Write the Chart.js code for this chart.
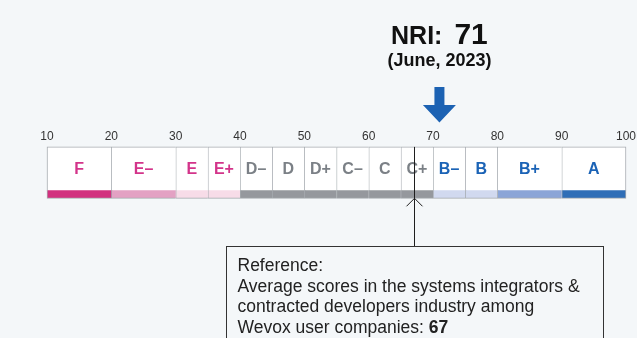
<!DOCTYPE html>
<html>
<head>
<meta charset="utf-8">
<script src="https://cdn.jsdelivr.net/npm/chart.js@4/dist/chart.umd.min.js"></script>
<style>
  html, body { margin: 0; padding: 0; background: #f4f7f9; }
  #wrap { width: 637px; height: 338px; position: relative; }
</style>
</head>
<body>
<div id="wrap"><canvas id="myChart"></canvas></div>
<script>
const grades = ["F", "E–", "E", "E+", "D–", "D", "D+", "C–", "C", "C+", "B–", "B", "B+", "A"];
const gradeFrom = [10, 20, 30, 35, 40, 45, 50, 55, 60, 65, 70, 75, 80, 90];
const gradeTo = [20, 30, 35, 40, 45, 50, 55, 60, 65, 70, 75, 80, 90, 100];
const stripColors = [
  "#d2317f", "#e3a1c3", "#f7dce8", "#f7dce8",
  "#95989d", "#95989d", "#95989d", "#95989d", "#95989d", "#95989d",
  "#d1d9ef", "#d1d9ef", "#8ba5d7", "#2f6eb7",
];
const gradeTextColors = [
  "#d3348a", "#d3348a", "#d3348a", "#d3348a",
  "#7b8086", "#7b8086", "#7b8086", "#7b8086", "#7b8086", "#7b8086",
  "#1b63b6", "#1b63b6", "#1b63b6", "#1b63b6",
];
const scoreTicks = [10, 20, 30, 40, 50, 60, 70, 80, 90, 100];
const nriScore = 71;
const nriPeriod = "(June, 2023)";
const industryAverage = 67;
const noteLines = [
  "Reference:",
  "Average scores in the systems integrators &",
  "contracted developers industry among",
  "Wevox user companies: ",
];

const FONT = "'Liberation Sans', Arial, Helvetica, sans-serif";
const borderGray = "#a6abb0";

const boxSets = grades.map(function (g, i) {
  return {
    label: g,
    data: [[gradeFrom[i], gradeTo[i]], null],
    backgroundColor: "#ffffff",
    borderColor: borderGray,
    borderWidth: { left: 1, top: 1, right: i === grades.length - 1 ? 1 : 0, bottom: 0 },
    borderSkipped: false,
    barThickness: 44,
    grouped: false,
    clip: false,
    order: 2,
  };
});

const stripSets = grades.map(function (g, i) {
  return {
    label: g + " band",
    data: [null, [gradeFrom[i], gradeTo[i]]],
    backgroundColor: stripColors[i],
    borderColor: borderGray,
    borderWidth: { left: 1, top: 0, right: i === grades.length - 1 ? 1 : 0, bottom: 1 },
    borderSkipped: false,
    barThickness: 8,
    grouped: false,
    clip: false,
    order: 1,
  };
});

// grade letters, reference marker, note box, NRI headline
const overlay = {
  id: "overlay",
  afterDatasetsDraw(chart) {
    const ctx = chart.ctx;
    const x = chart.scales.x;
    ctx.save();

    ctx.font = "bold 16px " + FONT;
    ctx.textAlign = "center";
    ctx.textBaseline = "middle";
    for (let i = 0; i < grades.length; i++) {
      const el = chart.getDatasetMeta(i).data[0];
      ctx.fillStyle = gradeTextColors[i];
      ctx.fillText(grades[i], (el.x + el.base) / 2, el.y + 1);
    }

    const boxEl = chart.getDatasetMeta(0).data[0];
    const stripEl = chart.getDatasetMeta(grades.length).data[1];
    const top = boxEl.y - boxEl.height / 2;
    const bottom = stripEl.y + stripEl.height / 2;
    const noteTop = 246;
    const rx = Math.round(x.getPixelForValue(industryAverage)) + 0.5;

    ctx.strokeStyle = "#1e1e1e";
    ctx.lineWidth = 1;
    ctx.beginPath();
    ctx.moveTo(rx, top);
    ctx.lineTo(rx, noteTop);
    ctx.moveTo(rx - 8, bottom + 8);
    ctx.lineTo(rx, bottom);
    ctx.lineTo(rx + 8, bottom + 8);
    ctx.stroke();

    const noteW = 377;
    const nx = Math.round(rx - noteW / 2) + 0.5;
    ctx.strokeStyle = "#333333";
    ctx.strokeRect(nx, noteTop + 0.5, noteW, 140);

    ctx.fillStyle = "#222222";
    ctx.textAlign = "left";
    ctx.textBaseline = "alphabetic";
    ctx.font = "17.5px " + FONT;
    for (let i = 0; i < noteLines.length; i++) {
      ctx.fillText(noteLines[i], nx + 11, noteTop + 25 + i * 20.7);
    }
    const lastW = ctx.measureText(noteLines[noteLines.length - 1]).width;
    ctx.font = "bold 17.5px " + FONT;
    ctx.fillText(String(industryAverage), nx + 11 + lastW, noteTop + 25 + (noteLines.length - 1) * 20.7);

    const ax = x.getPixelForValue(nriScore);
    ctx.font = "bold 25px " + FONT;
    const w1 = ctx.measureText("NRI:").width;
    ctx.font = "bold 30px " + FONT;
    const w2 = ctx.measureText(String(nriScore)).width;
    const gap = 12;
    const sx = ax - (w1 + gap + w2) / 2;
    ctx.fillStyle = "#111111";
    ctx.font = "bold 25px " + FONT;
    ctx.fillText("NRI:", sx, 43.5);
    ctx.font = "bold 30px " + FONT;
    ctx.fillText(String(nriScore), sx + w1 + gap, 43.5);
    ctx.font = "bold 18px " + FONT;
    ctx.textAlign = "center";
    ctx.fillText(nriPeriod, ax, 66);

    ctx.fillStyle = "#1c62b3";
    ctx.beginPath();
    ctx.moveTo(ax - 5, 87);
    ctx.lineTo(ax + 5, 87);
    ctx.lineTo(ax + 5, 105);
    ctx.lineTo(ax + 16.5, 105);
    ctx.lineTo(ax, 122.5);
    ctx.lineTo(ax - 16.5, 105);
    ctx.lineTo(ax - 5, 105);
    ctx.closePath();
    ctx.fill();

    ctx.restore();
  },
};

const chart = new Chart(document.getElementById("myChart"), {
  type: "bar",
  data: {
    labels: ["box", "band"],
    datasets: boxSets.concat(stripSets),
  },
  options: {
    indexAxis: "y",
    responsive: true,
    maintainAspectRatio: false,
    animation: false,
    layout: { padding: { left: 47, right: 11, top: 117.8, bottom: 131 } },
    plugins: {
      legend: { display: false },
      tooltip: { enabled: false },
      title: { display: false },
    },
    scales: {
      x: {
        type: "linear",
        position: "top",
        min: 10,
        max: 100,
        afterBuildTicks: function (axis) {
          axis.ticks = scoreTicks.map(function (v) { return { value: v }; });
        },
        afterFit: function (axis) {
          axis.paddingLeft = 0;
          axis.paddingRight = 0;
        },
        grid: { display: false, drawTicks: false },
        border: { display: false },
        ticks: {
          padding: 12,
          color: "#333333",
          font: { family: FONT, size: 12 },
          maxRotation: 0,
          autoSkip: false,
        },
      },
      y: {
        type: "category",
        display: false,
      },
    },
  },
  plugins: [overlay],
});
</script>
</body>
</html>
